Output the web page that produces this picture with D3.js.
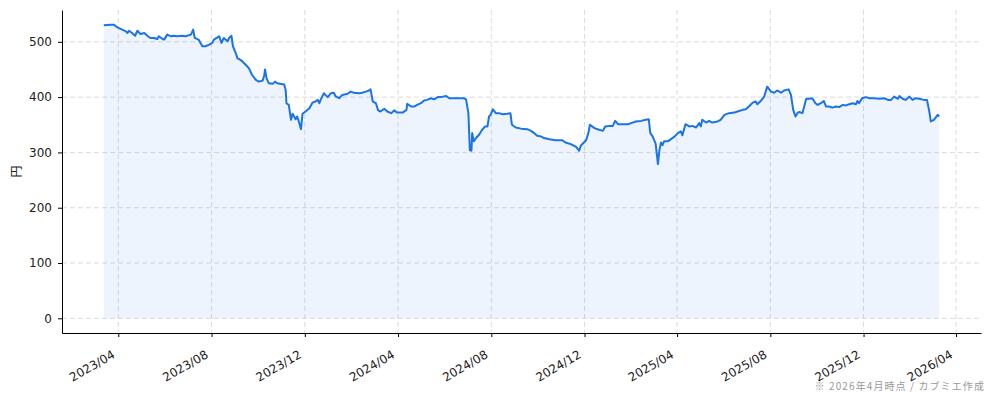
<!DOCTYPE html>
<html lang="ja">
<head>
<meta charset="utf-8">
<script src="https://cdn.jsdelivr.net/npm/d3@7"></script>
<style>
  html, body { margin: 0; padding: 0; background: #fff; }
  svg { display: block; }
  .axis text { font-family: "DejaVu Sans", sans-serif; font-size: 12px; fill: #222; }
  .axis path, .axis line { stroke: #000; }
  .grid line { stroke: #dcdcdc; stroke-dasharray: 5 3; }
</style>
</head>
<body>
<div id="chart"></div>
<script>
// Price series (円)
const dates = [
  '2023-03-13','2023-03-22','2023-03-26','2023-03-31','2023-04-06','2023-04-11','2023-04-13','2023-04-15',
  '2023-04-19','2023-04-23','2023-04-26','2023-04-30','2023-05-05','2023-05-09','2023-05-13','2023-05-18',
  '2023-05-22','2023-05-24','2023-05-29','2023-05-31','2023-06-04','2023-06-09','2023-06-13','2023-06-17',
  '2023-06-24','2023-06-28','2023-07-05','2023-07-08','2023-07-10','2023-07-15','2023-07-20','2023-07-24',
  '2023-07-29','2023-08-02','2023-08-04','2023-08-11','2023-08-14','2023-08-17','2023-08-22','2023-08-24',
  '2023-08-27','2023-08-29','2023-09-01','2023-09-04','2023-09-06','2023-09-10','2023-09-15','2023-09-19',
  '2023-09-23','2023-09-28','2023-10-02','2023-10-07','2023-10-09','2023-10-10','2023-10-12','2023-10-15',
  '2023-10-20','2023-10-23','2023-10-26','2023-11-04','2023-11-06','2023-11-07','2023-11-10','2023-11-13',
  '2023-11-15','2023-11-19','2023-11-21','2023-11-23','2023-11-26','2023-11-28','2023-12-02','2023-12-07',
  '2023-12-11','2023-12-15','2023-12-18','2023-12-20','2023-12-22','2023-12-26','2023-12-28','2023-12-31',
  '2024-01-04','2024-01-08','2024-01-10','2024-01-15','2024-01-19','2024-01-26','2024-01-30','2024-02-03',
  '2024-02-10','2024-02-14','2024-02-19','2024-02-23','2024-02-25','2024-02-28','2024-03-03','2024-03-06',
  '2024-03-09','2024-03-14','2024-03-18','2024-03-23','2024-03-27','2024-03-31','2024-04-07','2024-04-12',
  '2024-04-13','2024-04-18','2024-04-22','2024-04-26','2024-05-01','2024-05-05','2024-05-09','2024-05-14',
  '2024-05-18','2024-05-23','2024-05-27','2024-06-03','2024-06-07','2024-06-13','2024-06-20','2024-06-26',
  '2024-06-29','2024-07-02','2024-07-04','2024-07-06','2024-07-07','2024-07-09','2024-07-12','2024-07-16',
  '2024-07-20','2024-07-24','2024-07-27','2024-07-29','2024-07-31','2024-08-03','2024-08-07','2024-08-11',
  '2024-08-16','2024-08-22','2024-08-26','2024-08-28','2024-09-02','2024-09-09','2024-09-17','2024-09-22',
  '2024-09-26','2024-09-30','2024-10-05','2024-10-09','2024-10-16','2024-10-24','2024-11-02','2024-11-06',
  '2024-11-13','2024-11-20','2024-11-24','2024-11-26','2024-12-03','2024-12-06','2024-12-08','2024-12-14',
  '2024-12-20','2024-12-25','2024-12-28','2025-01-03','2025-01-07','2025-01-10','2025-01-14','2025-01-20',
  '2025-01-27','2025-01-31','2025-02-06','2025-02-13','2025-02-19','2025-02-23','2025-02-25','2025-02-28',
  '2025-03-04','2025-03-07','2025-03-09','2025-03-11','2025-03-13','2025-03-15','2025-03-20','2025-03-24',
  '2025-03-29','2025-04-02','2025-04-06','2025-04-08','2025-04-12','2025-04-17','2025-04-21','2025-04-26',
  '2025-04-30','2025-05-02','2025-05-04','2025-05-09','2025-05-13','2025-05-17','2025-05-24','2025-05-28',
  '2025-06-02','2025-06-08','2025-06-15','2025-06-19','2025-06-26','2025-06-30','2025-07-04','2025-07-09',
  '2025-07-13','2025-07-15','2025-07-20','2025-07-24','2025-07-28','2025-08-02','2025-08-06','2025-08-10',
  '2025-08-15','2025-08-19','2025-08-25','2025-08-28','2025-08-31','2025-09-03','2025-09-06','2025-09-08',
  '2025-09-12','2025-09-17','2025-09-21','2025-09-25','2025-09-29','2025-10-02','2025-10-06','2025-10-10',
  '2025-10-13','2025-10-17','2025-10-21','2025-10-26','2025-10-30','2025-11-04','2025-11-08','2025-11-12',
  '2025-11-17','2025-11-21','2025-11-23','2025-11-25','2025-11-29','2025-12-04','2025-12-09','2025-12-15',
  '2025-12-22','2025-12-28','2026-01-02','2026-01-06','2026-01-10','2026-01-15','2026-01-17','2026-01-21',
  '2026-01-25','2026-01-30','2026-02-03','2026-02-07','2026-02-12','2026-02-18','2026-02-22','2026-02-25',
  '2026-02-27','2026-03-03','2026-03-08','2026-03-10'
];

const prices = [
  530, 531, 531, 526, 522, 519, 516, 520,
  516, 511, 520, 514, 516, 511, 507, 507,
  505, 510, 505, 504, 513, 510, 511, 510,
  511, 510, 513, 522, 507, 504, 492, 492,
  495, 498, 504, 510, 498, 507, 501, 507,
  511, 492, 482, 470, 469, 465, 458, 452,
  440, 431, 428, 430, 440, 450, 434, 425,
  424, 428, 425, 423, 413, 389, 386, 359,
  370, 360, 365, 357, 342, 370, 374, 380,
  390, 392, 395, 389, 396, 407, 404, 400,
  407, 408, 402, 398, 404, 406, 410, 408,
  407, 408, 410, 412, 414, 392, 389, 376,
  374, 379, 374, 371, 376, 372, 372, 377,
  388, 383, 383, 386, 389, 394, 395, 398,
  396, 400, 400, 402, 398, 398, 398, 398,
  396, 371, 304, 303, 335, 320, 326, 332,
  341, 347, 347, 365, 368, 378, 371, 371,
  369, 370, 371, 350, 345, 343, 342, 339,
  335, 330, 329, 326, 324, 322, 322, 318,
  315, 310, 303, 312, 322, 335, 350, 344,
  341, 339, 347, 348, 348, 357, 351, 351,
  351, 353, 356, 357, 359, 360, 335, 329,
  316, 279, 305, 318, 313, 320, 320, 324,
  329, 335, 338, 331, 351, 347, 348, 345,
  353, 347, 359, 354, 357, 354, 356, 359,
  368, 371, 372, 374, 377, 378, 383, 390,
  392, 387, 394, 401, 419, 410, 408, 412,
  408, 412, 414, 404, 377, 365, 372, 373,
  371, 397, 397, 398, 389, 386, 389, 393,
  383, 383, 381, 383, 382, 386, 385, 387,
  389, 387, 393, 389, 398, 400, 398, 398,
  397, 398, 395, 395, 401, 397, 402, 397,
  395, 401, 395, 398, 397, 395, 395, 374,
  356, 359, 368, 365
];

const yTicks = [0, 100, 200, 300, 400, 500];
const xTickDates = ['2023-04-01','2023-08-01','2023-12-01','2024-04-01','2024-08-01',
                    '2024-12-01','2025-04-01','2025-08-01','2025-12-01','2026-04-01'];
const yLabel = '円';
const footnote = '※ 2026年4月時点 / カブミエ作成';

const W = 994, H = 401;
const margin = { top: 10, right: 13, bottom: 68, left: 62 };
const width = W - margin.left - margin.right;
const height = H - margin.top - margin.bottom;

const parse = d3.timeParse('%Y-%m-%d');
const data = dates.map((d, i) => ({ date: parse(d), price: prices[i] }));

const svg = d3.select('#chart').append('svg')
    .attr('width', W)
    .attr('height', H);

const g = svg.append('g')
    .attr('transform', `translate(${margin.left},${margin.top})`);

// Scales with 5% margins on both axes
const [t0, t1] = d3.extent(data, d => d.date);
const tPad = (t1 - t0) * 0.05;
const xScale = d3.scaleTime()
    .domain([new Date(+t0 - tPad), new Date(+t1 + tPad)])
    .range([0, width]);

const yMax = d3.max(prices);
const yPad = yMax * 0.05;
const yScale = d3.scaleLinear()
    .domain([-yPad, yMax + yPad])
    .range([height, 0]);

const xTicks = xTickDates.map(parse);

// Grid
const gridG = g.append('g').attr('class', 'grid');
gridG.selectAll('.gx').data(xTicks).enter().append('line')
    .attr('class', 'gx')
    .attr('x1', d => xScale(d)).attr('x2', d => xScale(d))
    .attr('y1', 0).attr('y2', height);
gridG.selectAll('.gy').data(yTicks).enter().append('line')
    .attr('class', 'gy')
    .attr('x1', 0).attr('x2', width)
    .attr('y1', d => yScale(d)).attr('y2', d => yScale(d));

// Area + line
const area = d3.area()
    .x(d => xScale(d.date))
    .y0(yScale(0))
    .y1(d => yScale(d.price));

g.append('path')
    .datum(data)
    .attr('d', area)
    .attr('fill', '#1a73e8')
    .attr('fill-opacity', 0.08);

const line = d3.line()
    .x(d => xScale(d.date))
    .y(d => yScale(d.price));

g.append('path')
    .datum(data)
    .attr('d', line)
    .attr('fill', 'none')
    .attr('stroke', '#1a73e8')
    .attr('stroke-width', 2)
    .attr('stroke-linejoin', 'round');

// Axes
const xAxisG = g.append('g')
    .attr('class', 'axis x-axis')
    .attr('transform', `translate(0,${height})`)
    .call(d3.axisBottom(xScale).tickValues(xTicks).tickFormat(d3.timeFormat('%Y/%m')).tickSize(4).tickSizeOuter(0));

xAxisG.selectAll('text')
    .attr('text-anchor', 'end')
    .attr('dy', '0')
    .attr('y', 0)
    .attr('x', 0)
    .attr('transform', 'translate(-3,24) rotate(-30)');

const yAxisG = g.append('g')
    .attr('class', 'axis y-axis')
    .call(d3.axisLeft(yScale).tickValues(yTicks).tickSize(4).tickSizeOuter(0).tickPadding(6));

// Y label
svg.append('text')
    .attr('transform', `translate(21,${margin.top + height / 2}) rotate(-90)`)
    .attr('text-anchor', 'middle')
    .style('font-family', '"Noto Sans CJK JP", sans-serif')
    .style('font-size', '12px')
    .attr('fill', '#222')
    .text(yLabel);

// Footnote
svg.append('text')
    .attr('x', 985)
    .attr('y', 390)
    .attr('text-anchor', 'end')
    .style('font-family', '"Noto Sans CJK JP", sans-serif')
    .style('font-size', '10px')
    .style('letter-spacing', '1.1px')
    .attr('fill', '#999')
    .text(footnote);
</script>
</body>
</html>
